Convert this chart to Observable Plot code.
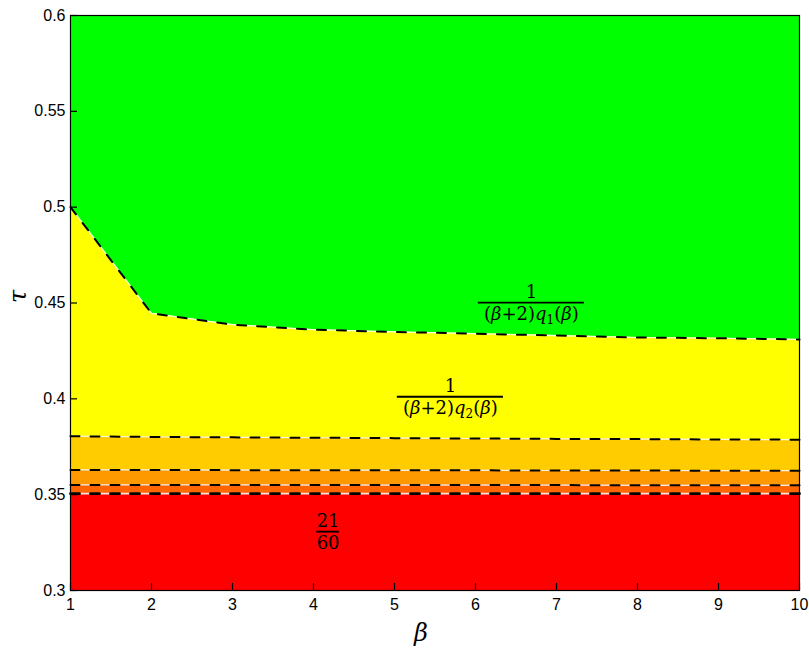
<!DOCTYPE html>
<html><head><meta charset="utf-8">
<script src="https://cdn.jsdelivr.net/npm/d3@7"></script>
<script src="https://cdn.jsdelivr.net/npm/@observablehq/plot@0.6"></script>
<style>body{margin:0;background:#fff}</style>
</head><body><div id="chart"></div>
<script>
// ---- data ----
const beta = [1, 2, 3, 4, 5, 6, 7, 8, 9, 10];
const tauQ1 = [0.5, 0.4446, 0.4387, 0.4361, 0.4349, 0.4340, 0.4330, 0.4320, 0.4316, 0.4310]; // 1/((β+2)q1(β))
const tauQ2 = [0.3805, 0.3801, 0.3799, 0.3797, 0.3795, 0.3793, 0.3791, 0.3790, 0.3788, 0.3787]; // 1/((β+2)q2(β))
const tauB3 = [0.3629, 0.3629, 0.3628, 0.3628, 0.3627, 0.3627, 0.3626, 0.3626, 0.3625, 0.3625];
const tauB4 = [0.3551, 0.3551, 0.3551, 0.3550, 0.3550, 0.3550, 0.3550, 0.3549, 0.3549, 0.3549];
const tau2160 = [0.3505, 0.3505, 0.3505, 0.3505, 0.3505, 0.3505, 0.3505, 0.3505, 0.3505, 0.3505]; // 21/60
const tauMin = 0.3, tauMax = 0.6;
const xTicks = [1, 2, 3, 4, 5, 6, 7, 8, 9, 10];
const yTicks = [0.3, 0.35, 0.4, 0.45, 0.5, 0.55, 0.6];
const bandColors = ["#00ff00", "#ffff00", "#ffcc00", "#ff9900", "#ff6600", "#ff0000"];

const fracX = [6.69, 5.69, 4.18];
const fracY = [0.4502, 0.4011, 0.3307];
const fracNum = ["1", "1", "21"];
const fracDen = ["(β+2)q1(β)", "(β+2)q2(β)", "60"];
const fracHalfWidth = [0.655, 0.655, 0.14];

// ---- layout ----
const W = 809, H = 651, mL = 70, mR = 10, mT = 15, mB = 61;
const frameW = W - mL - mR, frameH = H - mT - mB, tickLen = 7;

// ---- build tables ----
const tops = [beta.map(() => tauMax), tauQ1, tauQ2, tauB3, tauB4, tau2160];
const bottoms = [tauQ1, tauQ2, tauB3, tauB4, tau2160, beta.map(() => tauMin)];
const bands = bandColors.map((c, k) => beta.map((b, i) => ({beta: b, lo: bottoms[k][i], hi: tops[k][i]})));
const boundaries = [tauQ1, tauQ2, tauB3, tauB4, tau2160].map(arr => beta.map((b, i) => ({beta: b, tau: arr[i]})));
const idx = fracX.map((_, i) => i);
const serif = "DejaVu Serif";

const marks = [];
bands.forEach((rows, k) => marks.push(Plot.areaY(rows, {x: "beta", y1: "lo", y2: "hi", fill: bandColors[k]})));
boundaries.forEach((rows, k) => {
  const w = k === 4 ? 2.8 : 2;
  marks.push(Plot.line(rows, {x: "beta", y: "tau", stroke: "white", strokeWidth: w * 0.6, strokeOpacity: 0.85}));
  marks.push(Plot.line(rows, {x: "beta", y: "tau", stroke: "black", strokeWidth: w, strokeDasharray: "9,11"}));
});
marks.push(
  Plot.frame({stroke: "black", strokeWidth: 1.2}),
  Plot.tickX(xTicks, {x: d => d, insetTop: frameH - tickLen, stroke: "black", strokeWidth: 1.2}),
  Plot.tickY(yTicks, {y: d => d, insetRight: frameW - tickLen, stroke: "black", strokeWidth: 1.2}),
  Plot.axisX({ticks: xTicks, tickSize: 0, tickPadding: 8, tickFormat: d => String(d), fontSize: 16, fill: "black", label: null}),
  Plot.axisY({ticks: yTicks, tickSize: 0, tickPadding: 5, tickFormat: d => String(d), fontSize: 16, fill: "black", label: null}),
  Plot.text(["β"], {text: d => d, frameAnchor: "bottom", dy: 50, dx: -14, fontSize: 24, fontStyle: "italic", fontFamily: serif, fill: "black"}),
  Plot.text(["τ"], {text: d => d, frameAnchor: "left", dx: -52, rotate: -90, fontSize: 24, fontStyle: "italic", fontFamily: serif, fill: "black"}),
  Plot.ruleY(idx, {y: i => fracY[i], x1: i => fracX[i] - fracHalfWidth[i], x2: i => fracX[i] + fracHalfWidth[i], stroke: "black", strokeWidth: 1.8}),
  Plot.text(idx, {x: i => fracX[i], y: i => fracY[i], text: i => fracNum[i], dy: -10, fontSize: 18, fontFamily: serif, fill: "black"}),
  Plot.text(idx, {x: i => fracX[i], y: i => fracY[i], text: i => fracDen[i], dy: 12, fontSize: 18, fontFamily: serif, fill: "black"})
);

const chart = Plot.plot({
  width: W,
  height: H,
  marginLeft: mL,
  marginRight: mR,
  marginTop: mT,
  marginBottom: mB,
  style: {fontFamily: "Liberation Sans, Arial, sans-serif", fontSize: "16px", background: "white", color: "black"},
  x: {domain: [1, 10]},
  y: {domain: [tauMin, tauMax]},
  marks
});

// turn "(β+2)qN(β)" into typeset tspans (italic β, q and subscript N)
d3.select(chart).selectAll("text").each(function () {
  const m = this.textContent.match(/^\(β\+2\)q(\d)\(β\)$/);
  if (!m) return;
  const t = d3.select(this);
  t.text(null);
  const parts = [["(", 0], ["β", 1], ["+2)", 0], ["q", 1], [m[1], 2], ["(", 0], ["β", 1], [")", 0]];
  let shifted = false;
  parts.forEach(([s, kind]) => {
    const sp = t.append("tspan").text(s);
    if (kind === 1) sp.attr("font-style", "italic");
    if (kind === 2) { sp.attr("font-size", 12).attr("dy", 4); shifted = true; }
    else if (shifted) { sp.attr("dy", -4); shifted = false; }
  });
});

document.getElementById("chart").appendChild(chart);
</script>
</body></html>
